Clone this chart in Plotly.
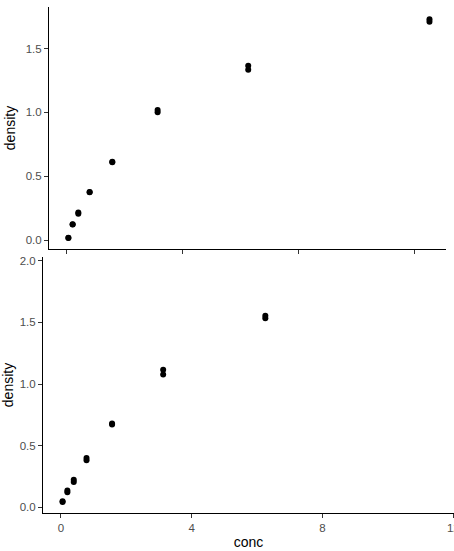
import plotly.graph_objects as go

# upper panel
conc_top = [0.0488, 0.0488, 0.1953, 0.1953, 0.3906, 0.3906, 0.7813, 0.7813,
            1.5625, 1.5625, 3.125, 3.125, 6.25, 6.25, 12.5, 12.5]
dens_top = [0.017, 0.018, 0.121, 0.124, 0.206, 0.215, 0.377, 0.374,
            0.614, 0.609, 1.019, 1.001, 1.334, 1.364, 1.730, 1.710]

# lower panel
conc_bot = [0.0488, 0.0488, 0.1953, 0.1953, 0.3906, 0.3906, 0.7813, 0.7813,
            1.5625, 1.5625, 3.125, 3.125, 6.25, 6.25]
dens_bot = [0.045, 0.050, 0.137, 0.123, 0.225, 0.207, 0.401, 0.383,
            0.672, 0.681, 1.116, 1.078, 1.534, 1.554]

x_ticks = [0, 4, 8, 12]
y_ticks = [0.0, 0.5, 1.0, 1.5, 2.0]
y_ticklabels = ["0.0", "0.5", "1.0", "1.5", "2.0"]

W, H = 454, 551
fig = go.Figure()

fig.add_trace(go.Scatter(x=conc_top, y=dens_top, mode='markers',
                         marker=dict(color='black', size=6),
                         xaxis='x', yaxis='y', showlegend=False))
fig.add_trace(go.Scatter(x=conc_bot, y=dens_bot, mode='markers',
                         marker=dict(color='black', size=6),
                         xaxis='x2', yaxis='y2', showlegend=False))

tickfont = dict(family='Liberation Sans, Arial', size=11.5, color='#4d4d4d')
titlefont = dict(family='Liberation Sans, Arial', size=14, color='black')
common = dict(showgrid=False, zeroline=False, showline=True, linecolor='black',
              linewidth=1, ticks='outside', ticklen=4, tickcolor='#333333',
              tickwidth=1, tickfont=tickfont, automargin=False)

# plot area: x 43..454, y 7..513
L, T, B = 43, 7, 38
pw, ph = W - L, H - T - B

fig.update_layout(
    width=W, height=H,
    margin=dict(l=L, r=0, t=T, b=B, autoexpand=False),
    plot_bgcolor='white', paper_bgcolor='white',
    xaxis=dict(domain=[(49 - L) / pw, (446 - L) / pw], range=[-0.62, 13.07],
               tickvals=x_ticks, showticklabels=False, anchor='y', **common),
    yaxis=dict(domain=[(513 - 249) / ph, 1], range=[-0.07, 1.825],
               tickvals=y_ticks, ticktext=y_ticklabels, anchor='x',
               title=dict(text='density', font=titlefont, standoff=6), **common),
    xaxis2=dict(domain=[0, 1], range=[-0.55, 12.02], tickvals=x_ticks,
                ticklabeloverflow='allow', anchor='y2',
                title=dict(text='conc', font=titlefont, standoff=4), **common),
    yaxis2=dict(domain=[0, (513 - 257) / ph], range=[-0.045, 2.03],
                tickvals=y_ticks, ticktext=y_ticklabels, anchor='x2',
                title=dict(text='density', font=titlefont, standoff=4), **common),
)

# drop the default body margin so the figure sits at the page corner
fig.write_html("out.html", config={'displayModeBar': False},
               post_script="document.body.style.margin='0';")
